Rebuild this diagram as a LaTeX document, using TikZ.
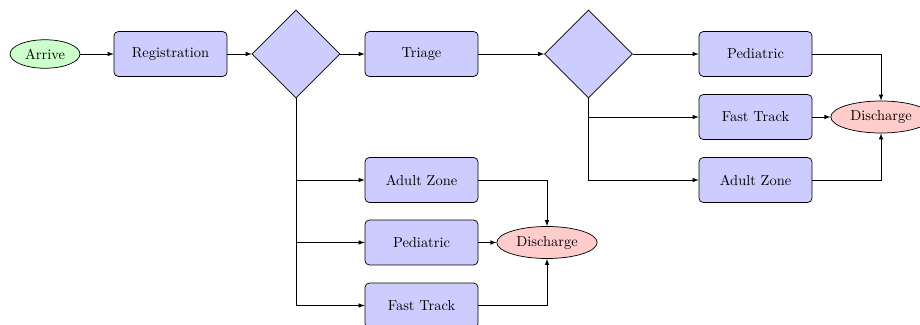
\documentclass[tikz,border=0pt]{standalone}
\usetikzlibrary{shapes.geometric,arrows}
\begin{document}
\begin{tikzpicture}[x=0.692pt,y=-0.692pt,
  box/.style={draw,fill=blue!20,rounded corners=3pt,minimum width=78.2pt,minimum height=31.1pt,inner sep=2pt,line width=0.5pt},
  dec/.style={draw,fill=blue!20,diamond,aspect=1,minimum width=60.9pt,minimum height=60.9pt,inner sep=0pt,line width=0.5pt},
  startn/.style={draw,fill=green!20,ellipse,line width=0.5pt},
  endn/.style={draw,fill=red!20,ellipse,line width=0.5pt},
  conn/.style={-latex,line width=0.45pt}]
\useasboundingbox (0,0) rectangle (920,324);
\clip (0,0) rectangle (920,324);
\node[startn] (arrive) at (45,54) {Arrive};
\node[box] (reg) at (170.5,54) {Registration};
\node[dec] (d1) at (296,54) {};
\node[box] (triage) at (421.5,54) {Triage};
\node[dec] (d2) at (588.5,54) {};
\node[box] (pedr) at (755.5,54) {Pediatric};
\node[box] (fastr) at (755.5,117) {Fast Track};
\node[box] (adultr) at (755.5,180) {Adult Zone};
\node[endn] (disr) at (881,117) {Discharge};
\node[box] (adultl) at (421.5,180) {Adult Zone};
\node[box] (pedl) at (421.5,242.5) {Pediatric};
\node[box] (fastl) at (421.5,305.5) {Fast Track};
\node[endn] (disl) at (547,242.5) {Discharge};
\draw[conn] (arrive) -- (reg);
\draw[conn] (reg) -- (d1);
\draw[conn] (d1) -- (triage);
\draw[conn] (triage) -- (d2);
\draw[conn] (d2) -- (pedr);
\draw[conn] (d2.south) |- (fastr);
\draw[conn] (d2.south) |- (adultr);
\draw[conn] (pedr) -| (disr.north);
\draw[conn] (fastr) -- (disr);
\draw[conn] (adultr) -| (disr.south);
\draw[conn] (d1.south) |- (adultl);
\draw[conn] (d1.south) |- (pedl);
\draw[conn] (d1.south) |- (fastl);
\draw[conn] (adultl) -| (disl.north);
\draw[conn] (pedl) -- (disl);
\draw[conn] (fastl) -| (disl.south);
\end{tikzpicture}
\end{document}
